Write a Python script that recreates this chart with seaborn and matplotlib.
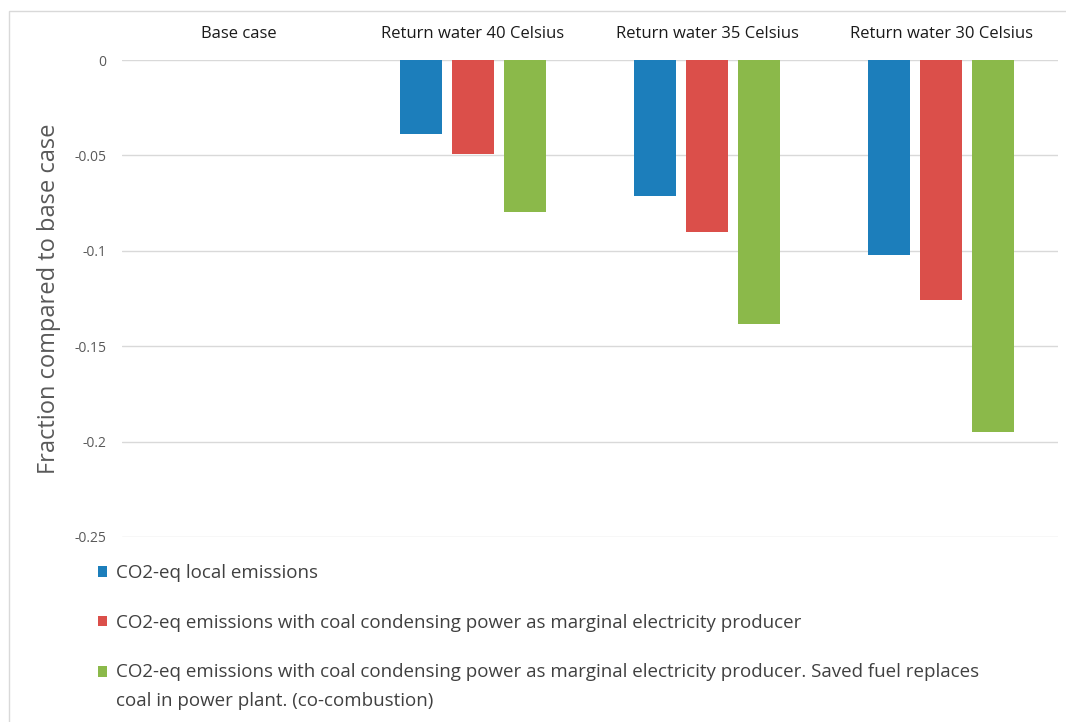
import matplotlib
matplotlib.use("Agg")
import matplotlib.pyplot as plt
import matplotlib.patches as mpatches
from matplotlib.legend_handler import HandlerPatch
import seaborn as sns
import pandas as pd

categories = ["Base case", "Return water 40 Celsius", "Return water 35 Celsius", "Return water 30 Celsius"]
series = [
    "CO2-eq local emissions",
    "CO2-eq emissions with coal condensing power as marginal electricity producer",
    "CO2-eq emissions with coal condensing power as marginal electricity producer. Saved fuel replaces\ncoal in power plant. (co-combustion)",
]
local_emissions = [0.0, -0.039, -0.0715, -0.102]
coal_marginal = [0.0, -0.0495, -0.090, -0.126]
coal_cocombustion = [0.0, -0.0795, -0.1385, -0.195]
yticks = [0, -0.05, -0.1, -0.15, -0.2, -0.25]
ytick_labels = ["0", "-0.05", "-0.1", "-0.15", "-0.2", "-0.25"]
colors = ["#1c7ebb", "#db4f4a", "#8bb94a"]

rows = []
for s, vals in zip(series, [local_emissions, coal_marginal, coal_cocombustion]):
    for c, v in zip(categories, vals):
        rows.append({"category": c, "series": s, "value": v})
df = pd.DataFrame(rows)

sns.set_theme(style="white")
plt.rcParams["font.family"] = ["Open Sans", "DejaVu Sans"]

W, H = 1066, 722
fig = plt.figure(figsize=(W / 100, H / 100), dpi=100)
ax = fig.add_axes([122 / W, 1 - 537 / H, (1058 - 122) / W, (537 - 60) / H])

sns.barplot(data=df, x="category", y="value", hue="series", order=categories,
            hue_order=series, palette=colors, width=0.667, gap=0.21,
            saturation=1, ax=ax, legend=True, linewidth=0)

ax.set_ylim(-0.25, 0)
ax.set_xlim(-0.5, 3.5)
ax.set_yticks(yticks)
ax.set_yticklabels(ytick_labels)
ax.yaxis.grid(True, color="#d9d9d9", linewidth=1)
ax.set_axisbelow(True)
for sp in ax.spines.values():
    sp.set_visible(False)

ax.xaxis.tick_top()
ax.tick_params(axis="x", top=False, bottom=False, length=0, pad=13,
               labelsize=12, labelcolor="#1a1a1a")
ax.tick_params(axis="y", length=0, pad=11, labelsize=10, labelcolor="#595959")
ax.set_xlabel("")
ax.set_ylabel("Fraction compared to base case", fontsize=17, color="#595959", labelpad=10)

handles, labels = ax.get_legend_handles_labels()
ax.get_legend().remove()


def square_first_line(legend, orig_handle, xdescent, ydescent, width, height, fontsize):
    return mpatches.Rectangle((-xdescent, -ydescent + 11.0), width, height)


handler_map = {handles[2]: HandlerPatch(patch_func=square_first_line)}
leg = fig.legend(handles, labels, loc="upper left",
                 bbox_to_anchor=(98 / W, 1 - 564 / H), frameon=False,
                 fontsize=13.5, handlelength=0.5, handleheight=0.5,
                 handletextpad=0.45, labelspacing=1.68, borderpad=0, borderaxespad=0,
                 handler_map=handler_map)
for t in leg.get_texts():
    t.set_color("#404040")
    t.set_linespacing(1.75)

fig.add_artist(mpatches.Rectangle((9 / W, -0.1), 1.2, 1 - 11 / H + 0.1,
                                  transform=fig.transFigure, fill=False,
                                  edgecolor="#d9d9d9", linewidth=1))

fig.savefig("out.png", dpi=100, facecolor="white")
